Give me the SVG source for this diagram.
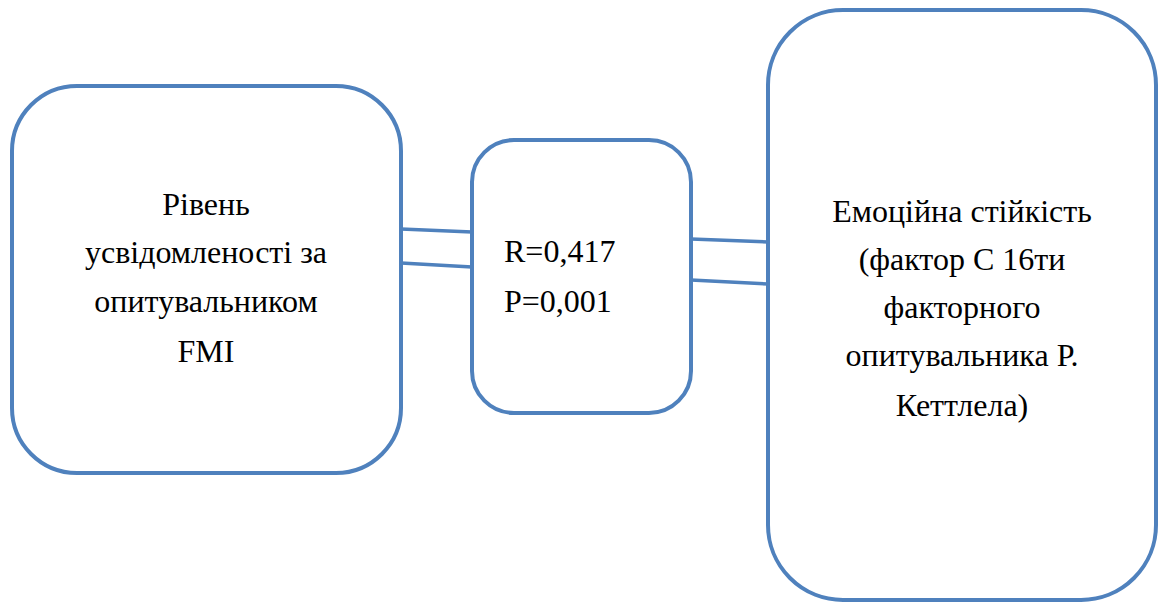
<svg xmlns="http://www.w3.org/2000/svg" width="1166" height="603" viewBox="0 0 1166 603">
<style>
.box{fill:#fff;stroke:#4f81bd;stroke-width:4}
.con{stroke:#4f81bd;stroke-width:3.5;fill:none}
.t{font-family:'Liberation Serif','Times New Roman',serif;font-size:32px;fill:#000}
.c{text-anchor:middle}
</style>
<rect width="1166" height="603" fill="#fff"/>
<g id="connectors">
<line class="con" x1="401" y1="229" x2="472" y2="232"/>
<line class="con" x1="401" y1="263" x2="472" y2="267"/>
<line class="con" x1="691" y1="239" x2="768" y2="242"/>
<line class="con" x1="691" y1="280" x2="768" y2="284"/>
</g>
<g id="left">
<rect class="box" x="12" y="86" width="389" height="387" rx="65"/>
<text class="t c" x="206" y="215">Рівень</text>
<text class="t c" x="206" y="263">усвідомленості за</text>
<text class="t c" x="206" y="312">опитувальником</text>
<text class="t c" x="206" y="362">FMI</text>
</g>
<g id="middle">
<rect class="box" x="472" y="140" width="219" height="273" rx="42"/>
<text class="t" x="504" y="262">R=0,417</text>
<text class="t" x="504" y="312">P=0,001</text>
</g>
<g id="right">
<rect class="box" x="768" y="10" width="388" height="590" rx="75"/>
<text class="t c" x="962" y="222">Емоційна стійкість</text>
<text class="t c" x="962" y="270">(фактор С 16ти</text>
<text class="t c" x="962" y="318">факторного</text>
<text class="t c" x="962" y="366">опитувальника Р.</text>
<text class="t c" x="962" y="416">Кеттлела)</text>
</g>
</svg>
